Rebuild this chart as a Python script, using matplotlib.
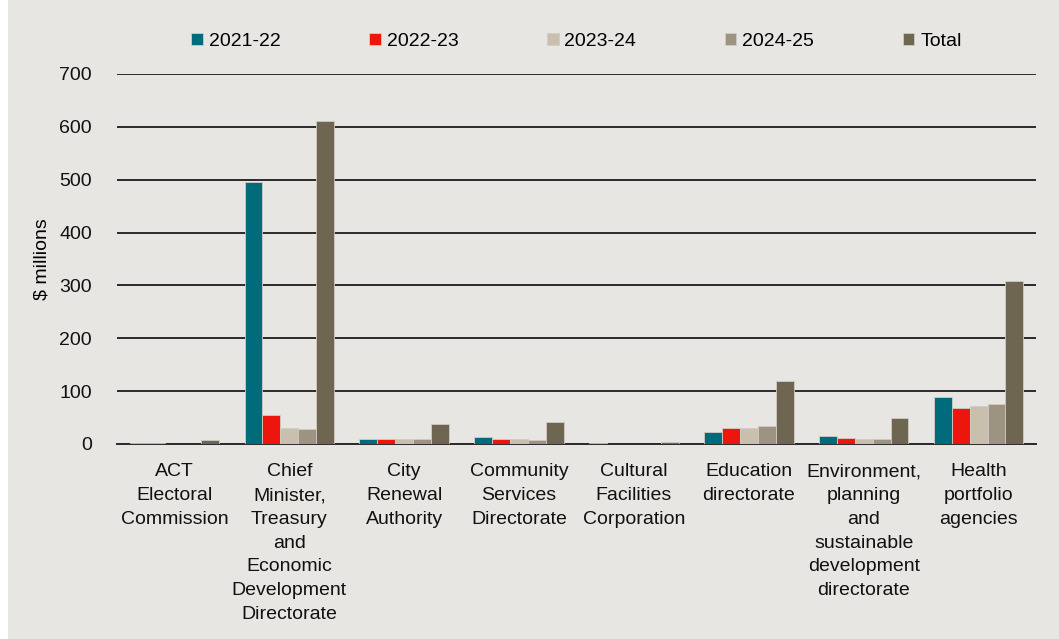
import numpy as np
import matplotlib
matplotlib.use("Agg")
import matplotlib.pyplot as plt
from matplotlib.patches import Rectangle

categories = [
    "ACT\nElectoral\nCommission",
    "Chief\nMinister,\nTreasury\nand\nEconomic\nDevelopment\nDirectorate",
    "City\nRenewal\nAuthority",
    "Community\nServices\nDirectorate",
    "Cultural\nFacilities\nCorporation",
    "Education\ndirectorate",
    "Environment,\nplanning\nand\nsustainable\ndevelopment\ndirectorate",
    "Health\nportfolio\nagencies",
]
series_names = ["2021-22", "2022-23", "2023-24", "2024-25", "Total"]
v2122 = [2, 496, 9, 13, 2, 22, 15, 89]
v2223 = [1.5, 55, 9, 9.5, 0, 30, 11, 69]
v2324 = [0.3, 30, 9, 9, 0, 30.5, 10, 72]
v2425 = [0.5, 28, 9, 7.5, 0, 34, 10, 75]
total = [7.5, 611, 37, 42, 3.5, 119, 50, 308]
colors = ["#006B7B", "#EE150C", "#C8C0AC", "#9E9380", "#6E6651"]
bg = "#E8E6E2"

plt.rcParams['font.family'] = ['Liberation Sans', 'DejaVu Sans']

fig = plt.figure(figsize=(10.59, 6.39), dpi=100, facecolor="white")
fig.patches.append(Rectangle((8 / 1059, 0), 1, 1, transform=fig.transFigure,
                             facecolor=bg, edgecolor="none", zorder=-10))
ax = fig.add_axes([117 / 1059, 1 - 444 / 639, (1036 - 117) / 1059, 370 / 639])
ax.set_facecolor(bg)

data = [v2122, v2223, v2324, v2425, total]
x = np.arange(len(categories))
w = 0.156
for i, (name, vals) in enumerate(zip(series_names, data)):
    ax.bar(x + (i - 2) * w, vals, w, color=colors[i], label=name,
           edgecolor="#d0ccc4", linewidth=0.6, zorder=3)

ax.set_ylim(0, 700)
ax.set_xlim(-0.5, len(categories) - 0.5)
ax.set_yticks(range(0, 701, 100))
ax.yaxis.grid(True, color="#2a2a2a", linewidth=1.4, zorder=0)
ax.set_axisbelow(True)
for s in ["top", "right", "left"]:
    ax.spines[s].set_visible(False)
ax.spines["bottom"].set_color("#2a2a2a")
ax.spines["bottom"].set_linewidth(1.4)
ax.tick_params(axis="both", length=0, labelsize=14, colors="#111111")
ax.tick_params(axis="y", pad=18)
ax.tick_params(axis="x", pad=14)
ax.set_xticks(x)
ax.set_xticklabels(categories, linespacing=1.52)
ax.set_ylabel("$ millions", fontsize=14, labelpad=6)

ax.legend(loc="center", bbox_to_anchor=(0.5, 1.088), ncol=5, frameon=False,
          prop={"size": 14},
          handlelength=0.6, handleheight=0.6, handletextpad=0.3, columnspacing=4.55)

fig.savefig("out.png", dpi=100, facecolor=fig.get_facecolor())
